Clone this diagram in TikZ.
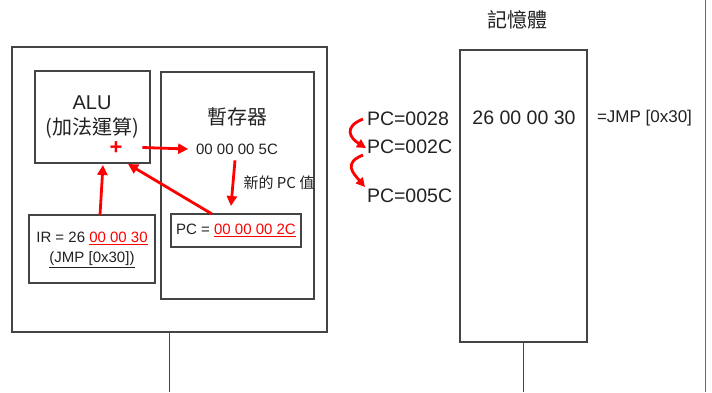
\documentclass[tikz,border=0pt]{standalone}
\usepackage{fontspec}
\setmainfont{Liberation Sans}
\newfontfamily\cjk{Noto Sans CJK TC}
\usetikzlibrary{arrows.meta}
\definecolor{txt}{HTML}{222222}
\definecolor{edge}{HTML}{444444}
\definecolor{ared}{HTML}{FF0000}
\begin{document}
\begin{tikzpicture}[x=1pt,y=-1pt,
  box/.style={draw=edge,line width=1.2pt,inner sep=0pt,outer sep=0pt,fill=white},
  lbl/.style={inner sep=0pt,outer sep=0pt,text=txt},
  redarrow/.style={draw=ared,line width=2.8pt,-{Triangle[length=10pt,width=10pt]}},
  curvearrow/.style={draw=ared,line width=2.8pt,-{Triangle[length=9pt,width=9pt]}},
  busline/.style={draw=edge,line width=1.2pt}]
\useasboundingbox (0,0) rectangle (712,392);
\fill[white] (0,0) rectangle (712,392);
% frames
\node[box,minimum width=315pt,minimum height=285pt] (cpu) at (169.5,189.5) {};
\node[box,minimum width=115pt,minimum height=92pt] (alu) at (92.5,117) {};
\node[box,minimum width=153pt,minimum height=227pt] (reg) at (237.5,185.5) {};
\node[box,minimum width=126pt,minimum height=68pt] (ir) at (92,249) {};
\node[box,minimum width=130pt,minimum height=33pt] (pcbox) at (236,230.5) {};
\node[box,minimum width=127pt,minimum height=292pt] (mem) at (523.5,196) {};
% bus lines
\coordinate (cpubus) at (169.5,392);
\coordinate (membus) at (523.5,392);
\coordinate (rtop) at (705.5,0);
\coordinate (rbot) at (705.5,392);
\draw[busline] (cpu.south) -- (cpubus);
\draw[busline] (mem.south) -- (membus);
\draw[draw=edge!80,line width=1.4pt] (rtop) -- (rbot);
% texts
\node[lbl,align=center,font=\fontsize{20}{25}\selectfont] (alutxt) at (92,117.5) {ALU\\{\cjk (加法運算)}};
\node[lbl,text=ared,font=\fontsize{22}{22}\selectfont\bfseries] (plus) at (116,148.5) {+};
\node[lbl,font=\fontsize{20}{24}\selectfont\cjk] (regtitle) at (237,117) {暫存器};
\node[lbl,font=\fontsize{15}{18}\selectfont] (v5c) at (237,149) {00 00 00 5C};
\node[lbl,font=\fontsize{15}{18}\selectfont\cjk] (newpc) at (279,183) {新的 PC 值};
\node[lbl,align=center,font=\fontsize{15}{20}\selectfont] (irtxt) at (92,250) {IR = 26 \textcolor{ared}{\underline{00 00 30}}\\\underline{(JMP [0x30])}};
\node[lbl,font=\fontsize{15}{18}\selectfont] (pctxt) at (236,230.5) {PC = \textcolor{ared}{\underline{00 00 00 2C}}};
\node[lbl,anchor=west,font=\fontsize{19.5}{22}\selectfont] (pc1) at (367,119) {PC=0028};
\node[lbl,anchor=west,font=\fontsize{19.5}{22}\selectfont] (pc2) at (367,147) {PC=002C};
\node[lbl,anchor=west,font=\fontsize{19.5}{22}\selectfont] (pc3) at (367,196) {PC=005C};
\node[lbl,font=\fontsize{20}{24}\selectfont\cjk] (memtitle) at (517,20) {記憶體};
\node[lbl,font=\fontsize{19.5}{22}\selectfont] (memval) at (524,118) {26 00 00 30};
\node[lbl,anchor=west,font=\fontsize{17}{20}\selectfont] (jmp) at (597,118) {=JMP [0x30]};
% arrows
\draw[redarrow] ([xshift=20pt,yshift=1pt]plus.east) -- ([xshift=-8pt]v5c.west);
\draw[redarrow] ([xshift=-2pt,yshift=-6pt]v5c.south) -- ([xshift=-5pt,yshift=8pt]pcbox.north);
\draw[redarrow] ([xshift=8pt]ir.north) -- ([xshift=10.5pt,yshift=-2pt]alu.south);
\draw[redarrow] ([xshift=-24pt]pcbox.north) -- ([xshift=35.5pt,yshift=-1pt]alu.south);
\draw[curvearrow] ([xshift=-4pt]pc1.west) .. controls +(-20,8) and +(-16,-10) .. ([xshift=-1pt,yshift=-1pt]pc2.west);
\draw[curvearrow] ([xshift=-4pt,yshift=-8pt]pc2.west) .. controls +(-20,8) and +(-12,-14) .. ([xshift=-2pt,yshift=9pt]pc3.west);
\end{tikzpicture}
\end{document}
